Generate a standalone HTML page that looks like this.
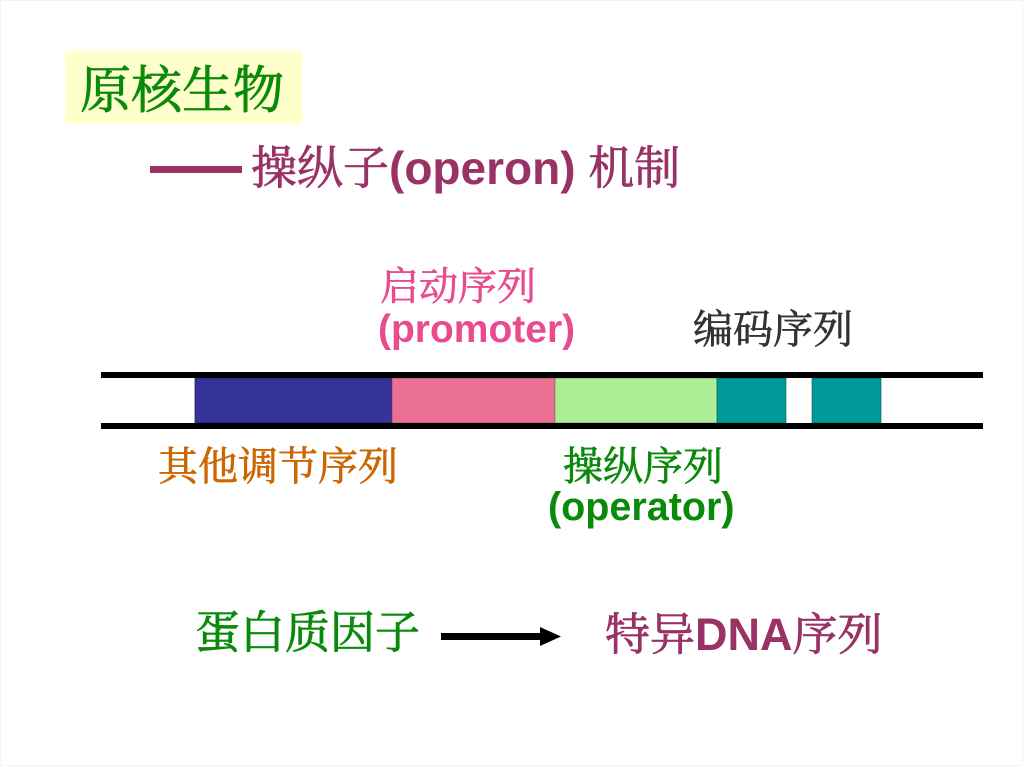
<!DOCTYPE html>
<html><head><meta charset="utf-8">
<style>
html,body{margin:0;padding:0;background:#fff;}
svg{display:block;}
.cjk{font-family:"Noto Serif CJK SC","Noto Sans CJK SC",serif;font-weight:normal;stroke-width:0.8;stroke-linejoin:round;}
.lat{font-family:"Liberation Sans",Arial,sans-serif;font-weight:bold;stroke:none;}
</style></head>
<body>
<svg width="1024" height="767" viewBox="0 0 1024 767" xmlns="http://www.w3.org/2000/svg">
  <rect x="0" y="0" width="1024" height="767" fill="#fff"/>
  <!-- title box -->
  <rect x="65" y="51" width="237" height="73" fill="#FFFFCC"/>
  <text x="80" y="108" font-size="51" fill="#0a8a0a" stroke="#0a8a0a" class="cjk">原核生物</text>

  <!-- subtitle -->
  <rect x="150" y="166" width="92" height="7" fill="#993366"/>
  <text x="251" y="184" font-size="46" fill="#993366" stroke="#993366" class="cjk">操纵子<tspan class="lat">(operon) </tspan>机制</text>

  <!-- top labels -->
  <text x="380" y="300" font-size="39" fill="#E94B8F" stroke="#E94B8F" class="cjk" style="stroke-width:0.7">启动序列</text>
  <text x="378" y="342" font-size="39" fill="#E94B8F" class="lat">(promoter)</text>
  <text x="693" y="343" font-size="40" fill="#333333" stroke="#333333" class="cjk" style="stroke-width:0.7">编码序列</text>

  <!-- DNA bar -->
  <rect x="195" y="378" width="197" height="45" fill="#333399" stroke="#222266" stroke-width="0.8"/>
  <rect x="392" y="378" width="163" height="45" fill="#EC7094" stroke="#774455" stroke-width="0.6"/>
  <rect x="555" y="378" width="162" height="45" fill="#AEEE96" stroke="#667755" stroke-width="0.6"/>
  <rect x="717" y="378" width="69" height="45" fill="#009999" stroke="#115555" stroke-width="0.6"/>
  <rect x="812" y="378" width="69" height="45" fill="#009999" stroke="#115555" stroke-width="0.6"/>
  <rect x="101" y="372" width="882" height="6" fill="#000"/>
  <rect x="101" y="423" width="882" height="6" fill="#000"/>

  <!-- bottom labels -->
  <text x="158" y="480" font-size="40" fill="#CC6600" stroke="#CC6600" class="cjk" style="stroke-width:0.7">其他调节序列</text>
  <text x="563" y="480" font-size="40" fill="#0a8a0a" stroke="#0a8a0a" class="cjk" style="stroke-width:0.7">操纵序列</text>
  <text x="548" y="520" font-size="39.5" fill="#0a8a0a" class="lat">(operator)</text>

  <!-- bottom row -->
  <text x="195" y="648" font-size="45" fill="#0a8a0a" stroke="#0a8a0a" class="cjk">蛋白质因子</text>
  <rect x="441" y="633" width="102" height="7" fill="#000"/>
  <polygon points="540,627 561,636.5 540,646" fill="#000"/>
  <text x="605" y="650" font-size="45" fill="#993366" stroke="#993366" class="cjk">特异<tspan class="lat">DNA</tspan>序列</text>

  <!-- faint border -->
  <rect x="0.5" y="0.5" width="1022" height="765" fill="none" stroke="#f3f3f3" stroke-width="1"/>
</svg>
</body></html>
